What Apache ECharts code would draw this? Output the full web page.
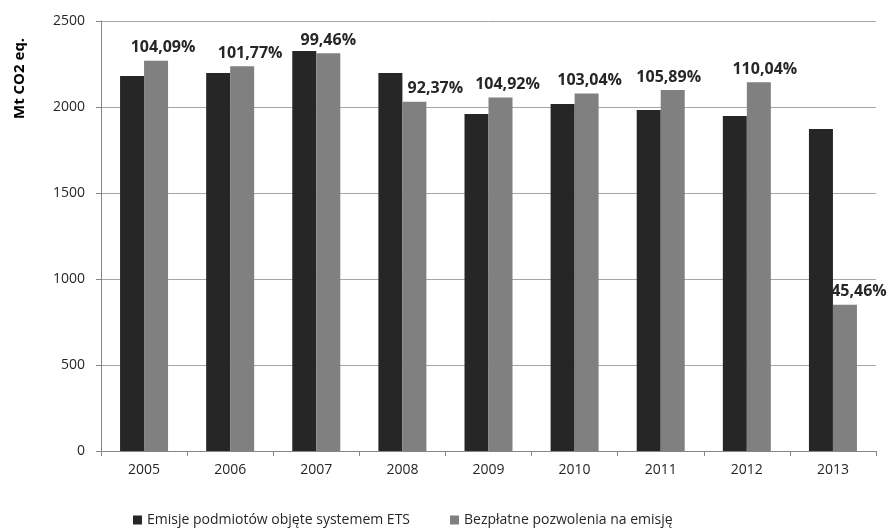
<!DOCTYPE html>
<html><head><meta charset="utf-8">
<script src="https://cdn.jsdelivr.net/npm/echarts@6/dist/echarts.min.js"></script>
<style>html,body{margin:0;padding:0;background:#fff}#c{width:888px;height:529px}</style>
</head><body><div id="c"></div>
<script>
const years = ['2005','2006','2007','2008','2009','2010','2011','2012','2013'];
const emissions = [2180, 2198, 2326, 2198, 1959, 2017, 1982, 1948, 1872];
const allowances = [2269, 2237, 2313, 2030, 2055, 2078, 2099, 2144, 851];
const ratioLabels = ['104,09%','101,77%','99,46%','92,37%','104,92%','103,04%','105,89%','110,04%','45,46%'];
const yTicks = [0, 500, 1000, 1500, 2000, 2500];
const seriesNames = ['Emisje podmiotów objęte systemem ETS','Bezpłatne pozwolenia na emisję'];

const font = 'Open Sans';
// horizontal nudges of the percentage labels (styling only)
const labelNudge = [7, 8, 0, 21, 7, 3, -4, 6, 14];
const chart = echarts.init(document.getElementById('c'));
const lightData = allowances.map((v, i) => ({value: v, label: {offset: [labelNudge[i], 0]}}));
chart.setOption({
  animation: false,
  backgroundColor: '#fff',
  grid: {left: 101, right: 12, top: 21, bottom: 78},
  graphic: [{
    type: 'text', x: 12, y: 119, rotation: Math.PI / 2,
    style: {text: 'Mt CO2 eq.', font: 'bold 15px "Open Sans"', fill: '#000'}
  }],
  legend: {
    top: 508, left: 128, itemWidth: 9, itemHeight: 9, itemGap: 40,
    icon: 'rect',
    textStyle: {fontFamily: font, fontSize: 14, color: '#262626'},
    data: seriesNames
  },
  xAxis: {
    type: 'category', data: years,
    axisLine: {lineStyle: {color: '#868686'}},
    axisTick: {show: true, length: 5, lineStyle: {color: '#868686'}},
    axisLabel: {fontFamily: font, fontSize: 14, color: '#262626', margin: 12}
  },
  yAxis: {
    type: 'value', min: yTicks[0], max: yTicks[yTicks.length-1], interval: 500,
    axisLine: {show: true, lineStyle: {color: '#868686'}},
    axisTick: {show: true, length: 5, lineStyle: {color: '#868686'}},
    splitLine: {lineStyle: {color: '#a6a6a6'}},
    axisLabel: {fontFamily: font, fontSize: 14, color: '#262626', margin: 16,
      formatter: v => String(v)}
  },
  series: [{
    name: seriesNames[0], type: 'bar', data: emissions, barWidth: 24, barGap: '0%',
    z: 2, itemStyle: {color: '#262626'}
  }, {
    name: seriesNames[1], type: 'bar', data: lightData, barWidth: 24,
    z: 5, itemStyle: {color: '#808080'},
    label: {
      show: true, position: 'top', distance: 5,
      fontFamily: font, fontSize: 16, fontWeight: 'bold', color: '#262626',
      formatter: p => ratioLabels[p.dataIndex]
    }
  }]
});
</script></body></html>
